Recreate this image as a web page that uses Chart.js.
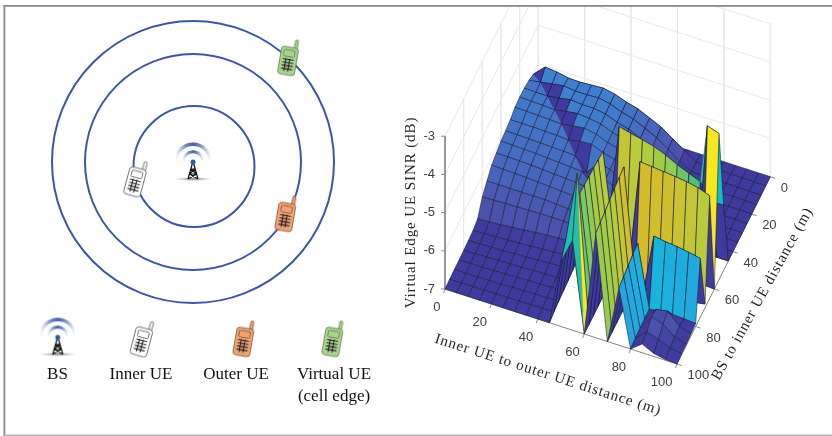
<!DOCTYPE html>
<html>
<head>
<meta charset="utf-8">
<title>Virtual edge UE SINR</title>
<style>
  html, body { margin: 0; padding: 0; background: #fff; }
  canvas { display: block; }
</style>
<script src="https://cdn.jsdelivr.net/npm/chart.js@4"></script>
</head>
<body>
<canvas id="chart" width="832" height="436"></canvas>
<script>
// surface grid, metres
const innerToOuter = [0,5,10,15,20,25,30,35,40,45,50,55,60,65,70,75,80,85,90,95,100];
const bsToInner = [0,5,10,15,20,25,30,35,40,45,50,55,60,65,70,75,80,85,90,95,100];

// virtual edge UE SINR (dB), one row per bsToInner value
const sinr = [
  [-7,-7,-7,-7,-7,-7,-7,-7,-7,-7,-7,-7,-7,-7,-7,-7,-7,-7,-7,-7,-7],
  [-6.03,-5.75,-5.78,-5.84,-5.85,-5.83,-5.81,-5.87,-5.98,-6.06,-6.2,-6.34,-6.55,-6.75,-6.97,-6.98,-6.98,-6.98,-6.98,-6.99,-7],
  [-5.95,-5.9,-5.85,-5.8,-5.84,-5.84,-5.82,-5.88,-6,-6.08,-6.22,-6.37,-6.58,-6.8,-6.97,-6.98,-6.98,-6.98,-6.98,-6.99,-7],
  [-5.91,-5.92,-5.92,-5.88,-5.82,-5.85,-5.85,-5.9,-6.02,-6.1,-6.24,-6.4,-6.6,-6.82,-6.97,-6.98,-6.98,-6.98,-6.98,-6.99,-7],
  [-5.9,-5.91,-5.92,-5.94,-5.88,-5.84,-5.87,-5.92,-6.04,-6.12,-6.26,-6.42,-6.63,-6.85,-6.97,-6.98,-6.98,-6.98,-6.99,-6.99,-7],
  [-5.92,-5.93,-5.94,-5.95,-5.97,-5.92,-5.88,-5.94,-6.06,-6.14,-6.28,-6.45,-6.66,-6.88,-6.98,-6.98,-6.98,-6.99,-6.99,-6.99,-7],
  [-6,-6,-6,-6.01,-6.02,-6.04,-5.98,-5.96,-6.08,-6.16,-6.3,-6.48,-6.7,-6.9,-6.98,-6.98,-6.99,-6.99,-6.99,-7,-7],
  [-6.05,-6.05,-6.06,-6.07,-6.08,-6.09,-6.11,-6.45,-6.1,-6.18,-6.32,-6.5,-6.73,-6.92,-6.98,-6.99,-6.99,-6.99,-6.99,-7,-7],
  [-6.07,-6.08,-6.09,-6.1,-6.12,-6.14,-6.16,-6.18,-6.5,-6.2,-6.34,-6.53,-6.76,-6.94,-6.99,-6.99,-6.99,-6.99,-7,-7,-7],
  [-6.14,-6.14,-6.15,-6.16,-6.18,-6.2,-6.22,-6.24,-6.28,-6.4,-6.36,-6.56,-6.8,-6.96,-6.99,-6.99,-6.99,-7,-7,-7,-7],
  [-6.21,-6.22,-6.23,-6.24,-6.26,-6.28,-6.3,-6.32,-6.35,-6.4,-6.95,-4.12,-4.2,-4.27,-4.35,-4.47,-4.63,-4.75,-4.88,-5.3,-5.29],
  [-6.38,-6.38,-6.38,-6.38,-6.38,-6.38,-6.4,-6.42,-6.45,-6.5,-4.63,-6.98,-6.98,-6.98,-6.98,-6.98,-6.98,-6.98,-6.98,-3.07,-3.17],
  [-6.55,-6.54,-6.53,-6.52,-6.51,-6.5,-6.5,-6.5,-6.52,-6.58,-4.6,-6.98,-6.98,-6.98,-6.98,-6.98,-6.98,-6.98,-6.98,-6.98,-7],
  [-6.88,-6.86,-6.84,-6.81,-6.78,-6.75,-6.72,-6.7,-6.7,-6.72,-4.57,-7,-7,-7,-4.01,-4.04,-4.07,-4.1,-4.14,-4.2,-4.31],
  [-6.94,-6.93,-6.91,-6.9,-6.88,-6.86,-6.84,-6.82,-6.8,-6.8,-4.55,-7,-7,-4,-6.95,-6.95,-6.95,-6.95,-6.95,-6.95,-6.9],
  [-6.96,-6.95,-6.94,-6.93,-6.91,-6.9,-6.88,-6.86,-6.85,-6.85,-4.52,-7,-7,-4.04,-7,-7,-5.27,-5.32,-5.35,-5.4,-5.46],
  [-6.97,-6.96,-6.95,-6.94,-6.93,-6.92,-6.91,-6.9,-6.89,-6.88,-4.5,-7,-7,-4.08,-7,-5.31,-6.94,-6.9,-6.88,-6.9,-6.92],
  [-6.98,-6.97,-6.97,-6.96,-6.95,-6.94,-6.93,-6.92,-6.91,-6.9,-4.6,-7,-7,-4.13,-7,-5.35,-6.95,-6.6,-6.55,-6.85,-6.95],
  [-6.98,-6.98,-6.98,-6.97,-6.97,-6.96,-6.95,-6.94,-6.93,-6.92,-4.8,-7,-7,-4.18,-7,-5.4,-6.95,-6.55,-6.65,-6.88,-6.97],
  [-6.99,-6.99,-6.99,-6.98,-6.98,-6.98,-6.97,-6.97,-6.96,-6.95,-5,-3.14,-7,-4.22,-7,-5.45,-6.97,-6.7,-6.8,-6.92,-6.98],
  [-7,-7,-7,-7,-7,-7,-7,-7,-7,-7,-5.3,-4.64,-7,-4.27,-7,-5.5,-7,-6.77,-6.92,-6.98,-7]
];

// faces whose colour level differs from their first corner: [i, j, level]
const faceLevels = [
  [0,1,-7],[1,2,-7],[2,3,-7],[3,4,-7],[4,5,-7],[5,6,-7],[6,7,-7],
  [2,2,-7],[3,3,-7],[4,4,-7],[5,5,-7],[6,6,-7],[7,7,-7],
  [10,11,-4.2],[10,12,-4.28],[10,13,-4.35],[10,14,-4.45],[10,15,-4.55],[10,16,-4.66],[10,17,-4.75],[10,18,-4.95],[10,19,-5],
  [13,14,-4.03],[13,15,-4.12],[13,16,-4.22],[13,17,-4.3],[13,18,-4.36],[13,19,-4.42],
  [19,10,-5.15]
];
// faces drawn as two triangles, the second one in its own level: [i, j, level]
const splitFaces = [
  [0,1,-5.97],[1,2,-5.93],[2,3,-5.92],[3,4,-5.94],[4,5,-5.97],[5,6,-6.04],[6,7,-6.11],
  [11,19,-4.95],[18,10,-7]
];

// axis ticks
const xTicks = [0,20,40,60,80,100];
const yTicks = [0,20,40,60,80,100];
const zTicks = [-7,-6,-5,-4,-3];

// colour levels
const levels = [-7,-6.7,-6.55,-6.4,-6,-5.7,-5.45,-5.28,-5.15,-4.9,-4.75,-4.63,-4.47,-4.35,-4.2,-4.01,-3.7,-3.14];
const levelColors = ["#3e3a9e","#413fa0","#4a52ac","#4a58b0","#4472c4","#3d86d2","#26a4de","#18b4dc","#12bcc8","#2bbf9d","#4cc07a","#6fc46b","#8ecb58","#a3cc45","#b9ca3a","#d6bc2a","#e4c825","#f6e71e"];

// left diagram
const ringX = [194,193,193];
const ringY = [166.5,162,162];
const ringRadius = [60.5,108,141];
const legendNames = ["BS","Inner UE","Outer UE","Virtual UE"];
const legendNameX = [57.5,141,236,334];
const towerX = [193,57.7];
const towerY = [162,337.3];
const whitePhoneX = [136,142.4];
const whitePhoneY = [178,338];
const orangePhoneX = [286,244];
const orangePhoneY = [213,338];
const greenPhoneX = [288.7,333];
const greenPhoneY = [57,338];

// orthographic view of the box
function project(x, y, z) {
  return {
    x: 445 + 2.32 * x + 0.933 * (100 - y),
    y: 289 + 0.75 * x - 1.873 * (100 - y) - 38.2 * (z + 7)
  };
}

function hexRgb(hex) {
  return [1, 3, 5].map(k => parseInt(hex.substr(k, 2), 16));
}

function levelColor(z) {
  if (z <= levels[0]) return levelColors[0];
  for (let k = 1; k < levels.length; k++) {
    if (z <= levels[k]) {
      const t = (z - levels[k - 1]) / (levels[k] - levels[k - 1]);
      const a = hexRgb(levelColors[k - 1]);
      const b = hexRgb(levelColors[k]);
      return `rgb(${a.map((v, n) => Math.round(v + (b[n] - v) * t)).join(",")})`;
    }
  }
  return levelColors[levelColors.length - 1];
}

function pathSet(points, color, width) {
  return { data: points, showLine: true, fill: false, borderColor: color, borderWidth: width, pointRadius: 0, tension: 0 };
}

function shapeSet(points, fillColor, edge) {
  return {
    data: points.concat([points[0]]), showLine: true, fill: "shape", backgroundColor: fillColor,
    borderColor: edge, borderWidth: edge === fillColor ? 0.3 : 0.75, pointRadius: 0, tension: 0, borderJoinStyle: "round"
  };
}

function makeCanvas(w, h) {
  const c = document.createElement("canvas");
  c.width = w;
  c.height = h;
  return c;
}

function makePhone(fill, line) {
  const c = makeCanvas(30, 46);
  const g = c.getContext("2d");
  g.translate(15, 23);
  g.strokeStyle = line;
  g.fillStyle = fill;
  g.lineWidth = 0.8;
  // antenna
  g.beginPath();
  g.roundRect(4, -18, 3, 10, 1);
  g.fill();
  g.stroke();
  // body
  g.beginPath();
  g.roundRect(-8.5, -10, 17, 28, 3);
  g.fill();
  g.stroke();
  // screen
  g.beginPath();
  g.roundRect(-5.5, -7, 11, 6.5, 1);
  g.stroke();
  // keypad
  g.strokeStyle = "#222";
  g.lineWidth = 1.1;
  g.beginPath();
  [-2.4, 1.4].forEach(k => { g.moveTo(k, 1.5); g.lineTo(k, 14.5); });
  [2.5, 5.7, 8.9, 12.1].forEach(k => { g.moveTo(-5.5, k); g.lineTo(5.5, k); });
  g.stroke();
  return c;
}

function makeTower() {
  const c = makeCanvas(48, 48);
  const g = c.getContext("2d");
  g.translate(24, 24);
  // shadow under the mast
  const shade = g.createRadialGradient(0, 0, 1, 0, 0, 19);
  shade.addColorStop(0, "rgba(110,110,110,0.9)");
  shade.addColorStop(1, "rgba(170,170,170,0)");
  g.save();
  g.translate(0, 17);
  g.scale(1, 0.11);
  g.fillStyle = shade;
  g.beginPath();
  g.arc(0, 0, 19, 0, Math.PI * 2);
  g.fill();
  g.restore();
  // radio arcs
  [[17.8, 3.5], [10.3, 3]].forEach(([r, w]) => {
    const fade = g.createLinearGradient(-r, 0, r, 0);
    fade.addColorStop(0, "rgba(110,130,185,0)");
    fade.addColorStop(0.3, "rgba(85,110,175,0.8)");
    fade.addColorStop(0.5, "rgba(70,95,165,1)");
    fade.addColorStop(0.7, "rgba(85,110,175,0.8)");
    fade.addColorStop(1, "rgba(110,130,185,0)");
    g.strokeStyle = fade;
    g.lineWidth = w;
    g.beginPath();
    g.arc(0, 0, r, Math.PI * 1.02, Math.PI * 1.98);
    g.stroke();
  });
  // mast
  g.strokeStyle = "#111";
  g.lineWidth = 1.2;
  g.beginPath();
  g.moveTo(-0.5, 1);
  g.lineTo(-5, 17);
  g.moveTo(0.5, 1);
  g.lineTo(5, 17);
  g.moveTo(-2.2, 7);
  g.lineTo(2.2, 7);
  g.moveTo(-3.6, 12);
  g.lineTo(3.6, 12);
  g.moveTo(-2.2, 7);
  g.lineTo(3.6, 12);
  g.moveTo(2.2, 7);
  g.lineTo(-3.6, 12);
  g.moveTo(-3.6, 12);
  g.lineTo(5, 17);
  g.moveTo(3.6, 12);
  g.lineTo(-5, 17);
  g.stroke();
  g.fillStyle = "#2a5fa8";
  g.beginPath();
  g.arc(0, 0, 2.5, 0, Math.PI * 2);
  g.fill();
  return c;
}

function iconSet(xs, ys, style, rotation) {
  return {
    data: xs.map((x, k) => ({ x: x, y: ys[k] })), showLine: false,
    pointStyle: style, pointRotation: rotation, pointRadius: 10
  };
}

// paint order: first entry is the farthest back
const paint = [];

const gridColor = "#e9e9e9";
// back walls and floor
yTicks.forEach(y => paint.push(pathSet([project(0, y, -3), project(0, y, -7), project(100, y, -7)], gridColor, 1)));
xTicks.forEach(x => paint.push(pathSet([project(x, 0, -3), project(x, 0, -7), project(x, 100, -7)], gridColor, 1)));
zTicks.forEach(z => paint.push(pathSet([project(0, 100, z), project(0, 0, z), project(100, 0, z)], gridColor, 1)));

// axis lines and tick marks
const axisColor = "#8a8a8a";
paint.push(pathSet([project(0, 100, -3), project(0, 100, -7), project(100, 100, -7), project(100, 0, -7)], axisColor, 1));
xTicks.forEach(x => {
  const p = project(x, 100, -7);
  paint.push(pathSet([p, { x: p.x - 1.5, y: p.y + 4 }], axisColor, 1));
});
yTicks.forEach(y => {
  const p = project(100, y, -7);
  paint.push(pathSet([p, { x: p.x + 5, y: p.y + 1.6 }], axisColor, 1));
});
zTicks.forEach(z => {
  const p = project(0, 100, z);
  paint.push(pathSet([p, { x: p.x - 4, y: p.y }], axisColor, 1));
});

// surface, back to front
const edgeColor = "rgba(22,22,50,0.72)";
for (let j = 0; j < bsToInner.length - 1; j++) {
  for (let i = 0; i < innerToOuter.length - 1; i++) {
    const a = project(innerToOuter[i], bsToInner[j], sinr[j][i]);
    const b = project(innerToOuter[i + 1], bsToInner[j], sinr[j][i + 1]);
    const c = project(innerToOuter[i + 1], bsToInner[j + 1], sinr[j + 1][i + 1]);
    const d = project(innerToOuter[i], bsToInner[j + 1], sinr[j + 1][i]);
    const custom = faceLevels.find(f => f[0] === i && f[1] === j);
    const color = levelColor(custom ? custom[2] : sinr[j][i]);
    const split = splitFaces.find(f => f[0] === i && f[1] === j);
    if (split) {
      const other = levelColor(split[2]);
      paint.push(shapeSet([a, c, d], other, other));
      paint.push(shapeSet([a, b, c], color, color));
      paint.push(pathSet([a, b, c, d, a], edgeColor, 0.75));
    } else {
      paint.push(shapeSet([a, b, c, d], color, edgeColor));
    }
  }
}

// rings
ringRadius.forEach((r, k) => {
  paint.push({
    data: [{ x: ringX[k], y: ringY[k] }], showLine: false, pointStyle: "circle",
    pointRadius: r, pointBackgroundColor: "rgba(0,0,0,0)", pointBorderColor: "#3b56a8", pointBorderWidth: 2
  });
});

paint.push(iconSet(towerX, towerY, makeTower(), 0));
paint.push(iconSet(whitePhoneX, whitePhoneY, makePhone("#ffffff", "#555555"), 15));
paint.push(iconSet(orangePhoneX, orangePhoneY, makePhone("#f0a272", "#7a543a"), 10));
paint.push(iconSet(greenPhoneX, greenPhoneY, makePhone("#aad38f", "#5e8050"), 10));

// text that has to follow the projected box, plus the frame
const textPlugin = {
  id: "boxText",
  afterDatasetsDraw(chart) {
    const ctx = chart.ctx;
    const sx = chart.scales.x;
    const sy = chart.scales.y;
    const put = (text, p, align) => {
      ctx.textAlign = align;
      ctx.fillText(text, sx.getPixelForValue(p.x), sy.getPixelForValue(p.y));
    };
    ctx.save();
    // white strip above the frame
    ctx.fillStyle = "#fff";
    ctx.fillRect(0, 0, 832, 5);

    ctx.textBaseline = "middle";
    ctx.fillStyle = "#404040";
    ctx.font = "13px 'Liberation Sans'";
    xTicks.forEach(x => {
      const p = project(x, 100, -7);
      put(String(x), { x: p.x - 4.5, y: p.y + 18 }, "right");
    });
    yTicks.forEach(y => {
      const p = project(100, y, -7);
      put(String(y), { x: p.x + 10.5, y: p.y + 11.5 }, "left");
    });
    zTicks.forEach(z => {
      const p = project(0, 100, z);
      put(String(z), { x: p.x - 10, y: p.y }, "right");
    });

    // axis titles
    ctx.fillStyle = "#262626";
    const title = (text, cx, cy, angle, size, spacing) => {
      ctx.save();
      ctx.translate(sx.getPixelForValue(cx), sy.getPixelForValue(cy));
      ctx.rotate(angle * Math.PI / 180);
      ctx.font = size + "px 'Liberation Serif'";
      ctx.letterSpacing = spacing + "px";
      ctx.textAlign = "center";
      ctx.fillText(text, 0, 0);
      ctx.restore();
    };
    title("Virtual Edge UE SINR (dB)", 411.5, 212.5, -90, 15, 0.9);
    title("Inner UE to outer UE distance (m)", 548, 375, 17.8, 15, 0.9);
    title("BS to inner UE distance (m)", 762.5, 294, -61.1, 15, 0.9);

    // diagram legend
    ctx.fillStyle = "#111";
    ctx.font = "17px 'Liberation Serif'";
    legendNames.forEach((name, k) => put(name, { x: legendNameX[k], y: 374.5 }, "center"));
    put("(cell edge)", { x: legendNameX[3], y: 397 }, "center");

    // frame
    ctx.fillStyle = "#8a8a8a";
    ctx.fillRect(3.5, 5, 828.5, 1.8);
    ctx.fillRect(3.5, 5, 1.8, 431);
    ctx.fillStyle = "#b0b0b0";
    ctx.fillRect(3.5, 434.6, 828.5, 1.4);
    ctx.restore();
  }
};

new Chart(document.getElementById("chart"), {
  type: "scatter",
  // Chart.js paints the first dataset last
  data: { datasets: paint.slice().reverse() },
  options: {
    responsive: false,
    animation: false,
    events: [],
    layout: { padding: 0, autoPadding: false },
    plugins: { legend: { display: false }, tooltip: { enabled: false }, title: { display: false } },
    scales: {
      x: { type: "linear", min: 0, max: 832, display: false },
      y: { type: "linear", min: 0, max: 436, reverse: true, display: false }
    }
  },
  plugins: [textPlugin]
});
</script>
</body>
</html>
